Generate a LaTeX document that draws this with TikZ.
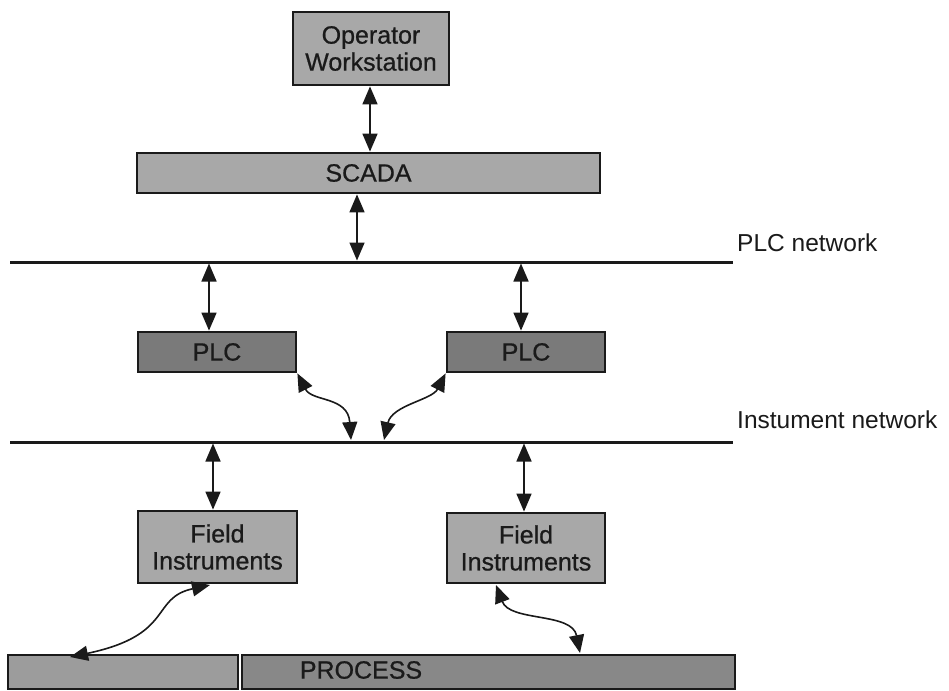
\documentclass[tikz,border=0pt]{standalone}
\usepackage{fontspec}
\setmainfont{Liberation Sans}
\newfontfamily\boxfont[FakeBold=0.7]{Liberation Sans}
\usetikzlibrary{arrows.meta}
\definecolor{lightbox}{HTML}{A8A8A8}
\definecolor{darkbox}{HTML}{7A7A7A}
\definecolor{procdark}{HTML}{888888}
\definecolor{procleft}{HTML}{9C9C9C}
\definecolor{ink}{HTML}{1A1A1A}
\tikzset{
  boxbase/.style={draw=ink, line width=2.8pt, inner sep=0pt, align=center,
    text=ink, font=\boxfont\fontsize{25}{27}\selectfont},
  lightbx/.style={boxbase, fill=lightbox},
  darkbx/.style={boxbase, fill=darkbox},
  netline/.style={draw=ink, line width=3pt},
  link/.style={draw=ink, line width=1.6pt,
    {Triangle[length=18pt,width=15pt]}-{Triangle[length=18pt,width=15pt]}},
  netlabel/.style={anchor=west, inner sep=0pt, text=ink,
    font=\fontsize{24.5}{27}\selectfont}
}
\begin{document}
\begin{tikzpicture}[x=1pt,y=-1pt]
\useasboundingbox (0,0) rectangle (949,690);
\fill[white] (0,0) rectangle (949,690);

% boxes
\node[lightbx, minimum width=156pt, minimum height=73pt] (ow) at (371,48.5) {Operator\\Workstation};
\node[lightbx, minimum width=463pt, minimum height=40pt] (scada) at (368.5,173) {SCADA};
\node[darkbx, minimum width=158pt, minimum height=40pt] (plcl) at (217,352) {PLC};
\node[darkbx, minimum width=158pt, minimum height=40pt] (plcr) at (526,352) {PLC};
\node[lightbx, minimum width=159pt, minimum height=72pt] (fil) at (217.5,547) {Field\\Instruments};
\node[lightbx, minimum width=158pt, minimum height=70pt] (fir) at (526,548) {Field\\Instruments};
\node[boxbase, fill=procleft, minimum width=230pt, minimum height=34pt] (procl) at (123,672) {};
\node[boxbase, fill=procdark, minimum width=493pt, minimum height=34pt] (proc) at (488.5,672) {};
\node[inner sep=0pt, text=ink, font=\boxfont\fontsize{25}{27}\selectfont] (proctext) at (361,670) {PROCESS};

% networks
\coordinate (plcnetA) at (10,262);
\coordinate (plcnetB) at (733,262);
\coordinate (insnetA) at (10,442);
\coordinate (insnetB) at (733,442);
\draw[netline] (plcnetA) -- (plcnetB);
\draw[netline] (insnetA) -- (insnetB);
\node[netlabel] (plclabel) at (737,243) {PLC network};
\node[netlabel] (inslabel) at (737,420) {Instument network};

% straight links
\coordinate (n1) at (357,260.5);
\coordinate (n2) at (209,263.5);
\coordinate (n3) at (521,263.5);
\coordinate (n4) at (213,443.5);
\coordinate (n5) at (524,443.5);
\draw[link] (ow.south -| 370,0) -- (scada.north -| 370,0);
\draw[link] (scada.south -| n1) -- (n1);
\draw[link] (n2) -- (plcl.north -| n2);
\draw[link] (n3) -- (plcr.north -| n3);
\draw[link] (n4) -- (fil.north -| n4);
\draw[link] (n5) -- (fir.north -| n5);

% curved links
\coordinate (c1) at (351,440);
\coordinate (c2) at (384,440);
\coordinate (c3) at (70,657);
\coordinate (c4) at (580,653);
\coordinate (f1) at (210,585);
\coordinate (f2) at (496,585);
\draw[link] (plcl.south east) .. controls (312,402) and (348,396) .. (c1);
\draw[link] (plcr.south west) .. controls (432,400) and (392,405) .. (c2);
\draw[link] (f1) .. controls (150,598) and (175,635) .. (c3);
\draw[link] (f2) .. controls (510,622) and (572,612) .. (c4);
\end{tikzpicture}
\end{document}
